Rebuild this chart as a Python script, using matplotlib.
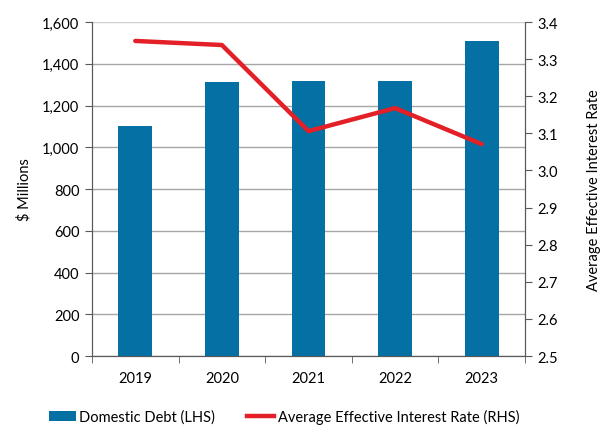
import matplotlib
matplotlib.use("Agg")
import matplotlib.pyplot as plt
from matplotlib.ticker import FuncFormatter, FixedLocator
from matplotlib.patches import Patch
from matplotlib.lines import Line2D

plt.rcParams['font.family'] = ['Lato', 'DejaVu Sans']

years = ["2019", "2020", "2021", "2022", "2023"]
domestic_debt = [1102, 1315, 1317, 1317, 1509]
interest_rate = [3.349, 3.338, 3.106, 3.168, 3.071]

BLUE = "#0470A3"
RED = "#E32027"

fig = plt.figure(figsize=(6.08, 4.27), dpi=100)
ax = fig.add_axes([0.1513, 0.1639, 0.7122, 0.7822])
ax2 = ax.twinx()

x = list(range(len(years)))
ax.bar(x, domestic_debt, width=0.39, color=BLUE, zorder=3)
ax.set_xlim(-0.5, len(years) - 0.5)
ax.set_ylim(0, 1600)
ax.set_yticks(range(0, 1601, 200))
ax.yaxis.set_major_formatter(FuncFormatter(lambda v, p: f"{int(v):,}"))
ax.grid(axis='y', color='#A6A6A6', linewidth=1.0, zorder=0)
ax.set_axisbelow(True)
ax.set_xticks(x)
ax.set_xticklabels(years)
ax.xaxis.set_minor_locator(FixedLocator([i - 0.5 for i in range(len(years) + 1)]))
ax.tick_params(axis='x', which='major', length=0, pad=11, labelsize=10.5)
ax.tick_params(axis='x', which='minor', length=5, color='#595959')
ax.tick_params(axis='y', length=5, color='#595959', labelsize=10.5, pad=4)
ax.set_ylabel("$ Millions", fontsize=10.5, labelpad=8)

ax2.plot(x, interest_rate, color=RED, linewidth=3.2, solid_capstyle='round', zorder=4)
ax2.set_ylim(2.5, 3.4)
ax2.set_yticks([2.5 + 0.1 * i for i in range(10)])
ax2.yaxis.set_major_formatter(FuncFormatter(lambda v, p: f"{v:.1f}"))
ax2.tick_params(axis='y', length=5, color='#595959', labelsize=10.5, pad=4)
ax2.set_ylabel("Average Effective Interest Rate", fontsize=10.5, labelpad=21)

for a in (ax, ax2):
    a.spines['top'].set_visible(False)
    a.spines['left'].set_color('#595959')
    a.spines['right'].set_color('#595959')
    a.spines['bottom'].set_color('#595959')

# top gridline is lighter than the others
ax.get_ygridlines()[-1].set_color('#D0D0D0')

handles = [Patch(facecolor=BLUE, label="Domestic Debt (LHS)"),
           Line2D([0], [0], color=RED, linewidth=3.2, label="Average Effective Interest Rate (RHS)")]
fig.legend(handles=handles, loc='center', bbox_to_anchor=(0.467, 0.022), ncol=2,
           frameon=False, fontsize=10.5, handlelength=1.85, handletextpad=0.25,
           columnspacing=2.2, borderpad=0)

fig.savefig("out.png", dpi=100)
